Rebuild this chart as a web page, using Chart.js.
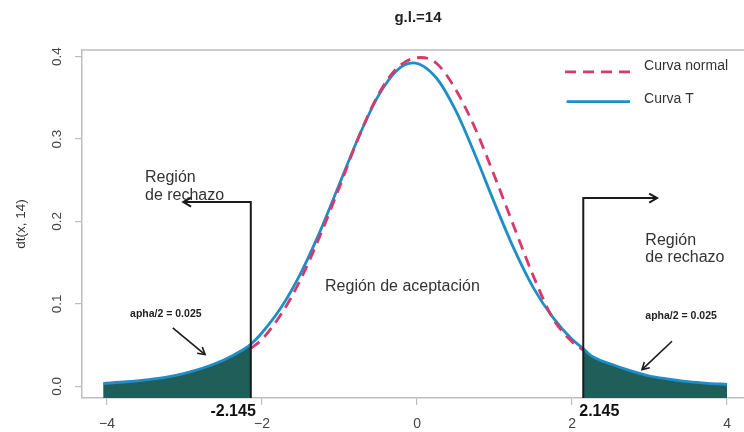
<!DOCTYPE html>
<html><head><meta charset="utf-8">
<script src="https://cdn.jsdelivr.net/npm/chart.js@4.4.0/dist/chart.umd.min.js"></script>
<style>html,body{margin:0;padding:0;background:#fff;overflow:hidden}#wrap{width:744px;height:432px;position:relative}</style>
</head><body><div id="wrap"><canvas id="c"></canvas></div>
<script>
// ---- data ----
const tX = [-4.05, -3.75, -3.5, -3.25, -3.0, -2.75, -2.5, -2.25, -2.145, -2.0, -1.75, -1.5, -1.25, -1.0, -0.75, -0.5, -0.25, -0.05, 0.25, 0.5, 0.75, 1.0, 1.25, 1.5, 1.75, 2.0, 2.145, 2.25, 2.5, 2.75, 3.0, 3.25, 3.5, 3.75, 4.0];
const tY = [0.0033, 0.0055, 0.0078, 0.0108, 0.0158, 0.0225, 0.0316, 0.0440, 0.0510, 0.0650, 0.0961, 0.1374, 0.1883, 0.2457, 0.3032, 0.3524, 0.3842, 0.3925, 0.3741, 0.3344, 0.2807, 0.2223, 0.1670, 0.1197, 0.0840, 0.0570, 0.0458, 0.0370, 0.0270, 0.0190, 0.0125, 0.0088, 0.0056, 0.0036, 0.0024];
const normX = [-2.145, -2.0, -1.75, -1.5, -1.25, -1.0, -0.75, -0.5, -0.25, 0.05, 0.25, 0.5, 0.75, 1.0, 1.25, 1.5, 1.75, 2.0, 2.145];
const normY = [0.046, 0.057, 0.088, 0.130, 0.183, 0.242, 0.303, 0.354, 0.387, 0.399, 0.392, 0.360, 0.313, 0.255, 0.194, 0.134, 0.083, 0.054, 0.044];
const xTicks = [-4, -2, 0, 2, 4];
const xTickLabels = ['\u22124', '\u22122', '0', '2', '4'];
const yTicks = [0, 0.1, 0.2, 0.3, 0.4];
const yTickLabels = ['0.0', '0.1', '0.2', '0.3', '0.4'];
const critValue = 2.145;
const seriesNames = ['Curva normal', 'Curva T'];
const chartTitle = 'g.l.=14';
const yAxisTitle = 'dt(x, 14)';
const alphaLabel = 'apha/2 = 0.025';

// ---- styling ----
const FONT = '"Liberation Sans", Arial, Helvetica, sans-serif';
const C_T = '#1f8dc8', C_N = '#d6396b', C_FILL = '#1f5e59', C_AX = '#bdbdbd', C_TXT = '#333333';
const X_MIN = -4.323, X_MAX = 4.219, Y_MIN = -0.0142, Y_MAX = 0.4081;
Chart.defaults.font.family = FONT;

const tPts = tX.map((x, i) => ({x, y: tY[i]}));
const normPts = normX.map((x, i) => ({x, y: normY[i]}));
const leftTail = tPts.filter(p => p.x <= -critValue);
const rightTail = tPts.filter(p => p.x >= critValue);

function arrowHead(ctx, x0, y0, x1, y1, len) {
  const a = Math.atan2(y1 - y0, x1 - x0);
  ctx.beginPath();
  ctx.moveTo(x1 - len * Math.cos(a - Math.PI / 6), y1 - len * Math.sin(a - Math.PI / 6));
  ctx.lineTo(x1, y1);
  ctx.lineTo(x1 - len * Math.cos(a + Math.PI / 6), y1 - len * Math.sin(a + Math.PI / 6));
  ctx.stroke();
}

const annot = {
  id: 'annot',
  afterLayout(chart) {
    const t = chart.titleBlock;
    if (t) { t.left += 5; t.right += 5; }
  },
  afterDraw(chart) {
    const {ctx, chartArea: a, scales: {x, y}} = chart;
    const X = v => x.getPixelForValue(v), Y = v => y.getPixelForValue(v);
    ctx.save();
    // top of box
    ctx.strokeStyle = C_AX; ctx.lineWidth = 1.5;
    ctx.beginPath(); ctx.moveTo(a.left, a.top); ctx.lineTo(a.right, a.top); ctx.stroke();

    // critical value lines with arrows
    ctx.strokeStyle = '#1a1a1a'; ctx.lineWidth = 2; ctx.lineCap = 'butt';
    const crit = (xv, topV, tipX) => {
      ctx.beginPath();
      ctx.moveTo(X(xv), a.bottom); ctx.lineTo(X(xv), Y(topV)); ctx.lineTo(X(tipX), Y(topV));
      ctx.stroke();
      arrowHead(ctx, X(xv), Y(topV), X(tipX), Y(topV), 9);
    };
    crit(-critValue, 0.2236, -3.016);
    crit(critValue, 0.2284, 3.097);

    // small alpha arrows
    ctx.lineWidth = 1.6;
    const sArrow = (x0, y0, x1, y1) => {
      ctx.beginPath(); ctx.moveTo(X(x0), Y(y0)); ctx.lineTo(X(x1), Y(y1)); ctx.stroke();
      arrowHead(ctx, X(x0), Y(y0), X(x1), Y(y1), 8);
    };
    sArrow(-3.152, 0.0708, -2.735, 0.0385);
    sArrow(3.290, 0.0547, 2.903, 0.0203);

    // texts
    ctx.fillStyle = C_TXT; ctx.textAlign = 'left'; ctx.textBaseline = 'alphabetic';
    ctx.font = '16px ' + FONT;
    ctx.fillText('Región', X(-3.51), Y(0.2479));
    ctx.fillText('de rechazo', X(-3.51), Y(0.226));
    ctx.fillText('Región', X(2.946), Y(0.1713));
    ctx.fillText('de rechazo', X(2.946), Y(0.1507));
    ctx.fillText('Región de aceptación', X(-1.187), Y(0.1154));
    ctx.fillStyle = '#222';
    ctx.font = 'bold 10.5px ' + FONT;
    ctx.fillText(alphaLabel, X(-3.703), Y(0.0844));
    ctx.fillText(alphaLabel, X(2.946), Y(0.0814));
    ctx.font = 'bold 16px ' + FONT;
    ctx.fillStyle = '#111';
    ctx.textAlign = 'right';
    ctx.fillText('-' + critValue.toFixed(3), X(-critValue) + 5, a.bottom + 18);
    ctx.textAlign = 'left';
    ctx.fillText(critValue.toFixed(3), X(critValue) - 4, a.bottom + 18);

    // legend
    ctx.lineWidth = 2.8;
    ctx.strokeStyle = C_N; ctx.setLineDash([11, 7]);
    ctx.beginPath(); ctx.moveTo(X(1.91), Y(0.3815)); ctx.lineTo(X(2.76), Y(0.3815)); ctx.stroke();
    ctx.setLineDash([]);
    ctx.strokeStyle = C_T;
    ctx.beginPath(); ctx.moveTo(X(1.93), Y(0.3454)); ctx.lineTo(X(2.748), Y(0.3454)); ctx.stroke();
    ctx.fillStyle = C_TXT; ctx.font = '14px ' + FONT; ctx.textBaseline = 'middle';
    ctx.fillText(seriesNames[0], X(2.929), Y(0.388));
    ctx.fillText(seriesNames[1], X(2.929), Y(0.3487));
    ctx.restore();
  }
};

const axisCommon = {
  type: 'linear',
  grid: {drawOnChartArea: false, drawTicks: true, tickLength: 7, tickColor: C_AX, lineWidth: 1.2},
  border: {display: true, color: C_AX, width: 1.5}
};

new Chart(document.getElementById('c'), {
  type: 'line',
  data: {
    datasets: [
      {label: seriesNames[0], data: normPts, borderColor: C_N, borderWidth: 2.8, borderDash: [11, 7], pointRadius: 0, fill: false, cubicInterpolationMode: 'monotone'},
      {label: seriesNames[1], data: tPts, borderColor: C_T, borderWidth: 2.8, pointRadius: 0, fill: false, cubicInterpolationMode: 'monotone'},
      {label: 'left tail', data: leftTail, borderColor: 'rgba(0,0,0,0)', borderWidth: 1, backgroundColor: C_FILL, fill: 'start', pointRadius: 0, cubicInterpolationMode: 'monotone'},
      {label: 'right tail', data: rightTail, borderColor: 'rgba(0,0,0,0)', borderWidth: 1, backgroundColor: C_FILL, fill: 'start', pointRadius: 0, cubicInterpolationMode: 'monotone'}
    ]
  },
  options: {
    responsive: true, maintainAspectRatio: false, animation: false,
    layout: {padding: 0},
    plugins: {
      legend: {display: false},
      tooltip: {enabled: false},
      title: {display: true, text: chartTitle, fullSize: false, color: '#222',
              font: {size: 15, weight: 'bold'}, padding: {top: 8.5, bottom: 23.5}}
    },
    scales: {
      x: Object.assign({}, axisCommon, {
        min: X_MIN, max: X_MAX,
        afterBuildTicks: s => { s.ticks = xTicks.map(v => ({value: v})); },
        afterFit: s => { s.height = 34; },
        ticks: {color: '#444', font: {size: 14}, padding: 11, minRotation: 0, maxRotation: 0, autoSkip: false,
                callback: v => xTickLabels[xTicks.indexOf(v)]}
      }),
      y: Object.assign({}, axisCommon, {
        min: Y_MIN, max: Y_MAX,
        afterBuildTicks: s => { s.ticks = yTicks.map(v => ({value: v})); },
        afterFit: s => { s.width = 82; },
        ticks: {color: '#444', font: {size: 13.5}, padding: 8.6, minRotation: 90, maxRotation: 90, crossAlign: 'center', autoSkip: false,
                callback: v => yTickLabels[yTicks.indexOf(v)]},
        title: {display: true, text: yAxisTitle, color: '#333', font: {size: 13.5}, padding: {top: 13.6, bottom: 0}}
      })
    }
  },
  plugins: [annot]
});
</script>
</body></html>
